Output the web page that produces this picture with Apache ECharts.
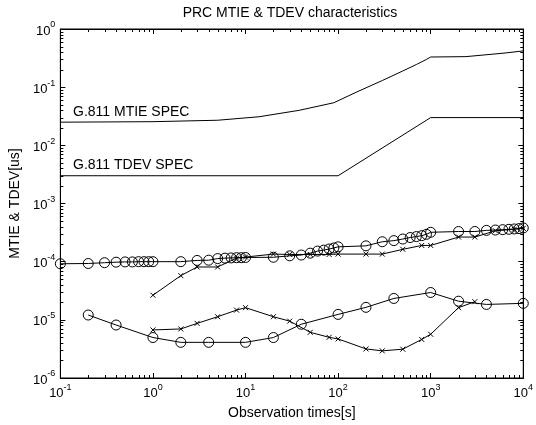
<!DOCTYPE html>
<html>
<head>
<meta charset="utf-8">
<title>PRC MTIE & TDEV characteristics</title>
<script src="https://cdn.jsdelivr.net/npm/echarts@6/dist/echarts.min.js"></script>
<style>
  html, body { margin: 0; padding: 0; background: #fff; }
  #chart { width: 536px; height: 425px; }
</style>
</head>
<body>
<div id="chart"></div>
<script>
// axis ranges / tick labels (decades)
var xDecades = [0.1, 1, 10, 100, 1000, 10000];
var yDecades = [1e-6, 1e-5, 1e-4, 1e-3, 1e-2, 1e-1, 1];

// G.811 MTIE spec
var mtieSpecX = [0.1, 1, 5, 14, 38, 90, 160, 300, 500, 700, 900, 1000, 2400, 6200, 10000];
var mtieSpecY = [0.025, 0.0255, 0.027, 0.031, 0.04, 0.054, 0.083, 0.13, 0.19, 0.245, 0.3, 0.33, 0.335, 0.385, 0.42];

// G.811 TDEV spec
var tdevSpecX = [0.1, 100, 1000, 10000];
var tdevSpecY = [0.003, 0.003, 0.03, 0.03];

// measured MTIE, circles
var mtieAX = [0.1, 0.2, 0.3, 0.4, 0.5, 0.6, 0.7, 0.8, 0.9, 1,
              2, 3, 4, 5, 6, 7, 8, 9, 10,
              20, 30, 40, 50, 60, 70, 80, 90, 100,
              200, 300, 400, 500, 600, 700, 800, 900, 1000,
              2000, 3000, 4000, 5000, 6000, 7000, 8000, 9000, 10000];
var mtieAY = [9.2e-5, 9.3e-5, 9.6e-5, 9.8e-5, 9.9e-5, 9.9e-5, 1.0e-4, 1.0e-4, 1.0e-4, 1.0e-4,
              1.0e-4, 1.05e-4, 1.06e-4, 1.13e-4, 1.15e-4, 1.16e-4, 1.17e-4, 1.17e-4, 1.18e-4,
              1.19e-4, 1.26e-4, 1.3e-4, 1.4e-4, 1.52e-4, 1.58e-4, 1.65e-4, 1.72e-4, 1.8e-4,
              1.87e-4, 2.2e-4, 2.3e-4, 2.45e-4, 2.6e-4, 2.7e-4, 2.8e-4, 2.95e-4, 3.2e-4,
              3.3e-4, 3.3e-4, 3.45e-4, 3.5e-4, 3.55e-4, 3.6e-4, 3.65e-4, 3.7e-4, 3.8e-4];

// measured MTIE, crosses
var mtieBX = [1, 2, 3, 5, 8, 10, 20, 30, 50, 80, 100, 200, 300, 500, 800, 1000, 2000, 3000, 5000, 8000, 10000];
var mtieBY = [2.65e-5, 5.75e-5, 8.1e-5, 8.1e-5, 1.15e-4, 1.2e-4, 1.35e-4, 1.33e-4, 1.33e-4, 1.33e-4, 1.35e-4,
              1.35e-4, 1.35e-4, 1.63e-4, 1.9e-4, 1.9e-4, 2.65e-4, 2.65e-4, 3.4e-4, 3.6e-4, 3.75e-4];

// measured TDEV, circles
var tdevAX = [0.2, 0.4, 1, 2, 4, 10, 20, 40, 100, 200, 400, 1000, 2000, 4000, 10000];
var tdevAY = [1.21e-5, 8.15e-6, 4.96e-6, 4.1e-6, 4.1e-6, 4.1e-6, 4.96e-6, 8.4e-6, 1.24e-5, 1.64e-5,
              2.33e-5, 2.95e-5, 2.09e-5, 1.84e-5, 1.92e-5];

// measured TDEV, crosses
var tdevBX = [1, 2, 3, 5, 8, 10, 20, 30, 50, 80, 100, 200, 300, 500, 800, 1000, 2000, 3000];
var tdevBY = [6.7e-6, 6.97e-6, 8.7e-6, 1.13e-5, 1.47e-5, 1.62e-5, 1.13e-5, 9.5e-6, 6.1e-6, 5.0e-6,
              4.7e-6, 3.16e-6, 2.93e-6, 3.13e-6, 4.6e-6, 5.65e-6, 1.62e-5, 2.05e-5];

var FONT = 'Liberation Sans';

// minor ticks 2..9 in each decade
var minorTicks = function(decades) {
    var out = [];
    for (var i = 0; i < decades.length - 1; i++) {
        for (var k = 2; k <= 9; k++) out.push(decades[i] * k);
    }
    return out;
};
var xMinor = minorTicks(xDecades);
var yMinor = minorTicks(yDecades);

var zip = function(xs, ys) {
    var d = [];
    for (var i = 0; i < xs.length; i++) d.push([xs[i], ys[i]]);
    return d;
};

var powLabel = function(v) {
    var e = Math.round(Math.log(v) / Math.LN10);
    return '{a|10}{b|' + e + '}';
};
var labelRich = {
    a: { fontSize: 13, fontFamily: FONT, color: '#000', verticalAlign: 'bottom' },
    b: { fontSize: 9, fontFamily: FONT, color: '#000', verticalAlign: 'bottom', padding: [0, 0, 8, 0] }
};

var lineSeries = function(name, data, symbol, size) {
    return {
        name: name,
        type: 'line',
        data: data,
        symbol: symbol,
        symbolSize: size,
        showSymbol: symbol !== 'none',
        silent: true,
        animation: false,
        lineStyle: { color: '#000', width: 1 },
        itemStyle: { color: 'rgba(0,0,0,0)', borderColor: '#000', borderWidth: 1 },
        emphasis: { disabled: true }
    };
};

var crisp = function(v) { return Math.round(v) + 0.5; };

var chart = echarts.init(document.getElementById('chart'));
var option = {
    backgroundColor: '#fff',
    animation: false,
    grid: { left: 57, right: 9, top: 29, bottom: 45, show: true, borderColor: '#000', borderWidth: 1 },
    xAxis: [{
        type: 'log', logBase: 10, min: 0.1, max: 10000, interval: 1,
        name: 'Observation times[s]', nameLocation: 'middle', nameGap: 28,
        nameTextStyle: { fontSize: 14, fontFamily: FONT, color: '#000' },
        axisLine: { show: true, lineStyle: { color: '#000', width: 1 } },
        axisTick: { show: true, inside: true, length: 5, lineStyle: { color: '#000' } },
        axisLabel: { formatter: powLabel, rich: labelRich, margin: 5 },
        splitLine: { show: false }
    }, {
        type: 'log', logBase: 10, min: 0.1, max: 10000, interval: 1, position: 'top',
        axisLine: { show: true, lineStyle: { color: '#000', width: 1 } },
        axisTick: { show: true, inside: true, length: 5, lineStyle: { color: '#000' } },
        axisLabel: { show: false },
        splitLine: { show: false }
    }],
    yAxis: [{
        type: 'log', logBase: 10, min: 1e-6, max: 1, interval: 1,
        name: 'MTIE & TDEV[us]', nameLocation: 'middle', nameGap: 36,
        nameTextStyle: { fontSize: 14, fontFamily: FONT, color: '#000' },
        axisLine: { show: true, lineStyle: { color: '#000', width: 1 } },
        axisTick: { show: true, inside: true, length: 5, lineStyle: { color: '#000' } },
        axisLabel: { formatter: powLabel, rich: labelRich, margin: 5 },
        splitLine: { show: false }
    }, {
        type: 'log', logBase: 10, min: 1e-6, max: 1, interval: 1, position: 'right',
        axisLine: { show: true, lineStyle: { color: '#000', width: 1 } },
        axisTick: { show: true, inside: true, length: 5, lineStyle: { color: '#000' } },
        axisLabel: { show: false },
        splitLine: { show: false }
    }],
    graphic: [
        { type: 'text', x: 290, y: 13, silent: true,
          style: { text: 'PRC MTIE & TDEV characteristics', textAlign: 'center', verticalAlign: 'middle',
                   fontSize: 14, fontFamily: FONT, fill: '#000' } },
        { type: 'text', x: 73, y: 112, silent: true,
          style: { text: 'G.811 MTIE SPEC', verticalAlign: 'middle', fontSize: 14, fontFamily: FONT, fill: '#000' } },
        { type: 'text', x: 73, y: 165, silent: true,
          style: { text: 'G.811 TDEV SPEC', verticalAlign: 'middle', fontSize: 14, fontFamily: FONT, fill: '#000' } }
    ],
    series: [
        lineSeries('G.811 MTIE SPEC', zip(mtieSpecX, mtieSpecY), 'none', 0),
        lineSeries('G.811 TDEV SPEC', zip(tdevSpecX, tdevSpecY), 'none', 0),
        lineSeries('MTIE o', zip(mtieAX, mtieAY), 'circle', 10),
        lineSeries('MTIE x', zip(mtieBX, mtieBY), 'path://M0,0L10,10M10,0L0,10', 5),
        lineSeries('TDEV o', zip(tdevAX, tdevAY), 'circle', 10),
        lineSeries('TDEV x', zip(tdevBX, tdevBY), 'path://M0,0L10,10M10,0L0,10', 5),
        {
            type: 'custom', silent: true, clip: false, xAxisIndex: 0, yAxisIndex: 0,
            data: xMinor.map(function(v) { return [v, 1]; }),
            renderItem: function(params, api) {
                var v = api.value(0);
                var b = api.coord([v, 1e-6]);
                var t = api.coord([v, 1]);
                var x = crisp(b[0]);
                var st = { stroke: '#000', lineWidth: 1 };
                return { type: 'group', children: [
                    { type: 'line', shape: { x1: x, y1: b[1], x2: x, y2: b[1] - 3 }, style: st },
                    { type: 'line', shape: { x1: x, y1: t[1], x2: x, y2: t[1] + 3 }, style: st }
                ] };
            }
        },
        {
            type: 'custom', silent: true, clip: false, xAxisIndex: 0, yAxisIndex: 0,
            data: yMinor.map(function(v) { return [1, v]; }),
            renderItem: function(params, api) {
                var v = api.value(1);
                var l = api.coord([0.1, v]);
                var r = api.coord([10000, v]);
                var y = crisp(l[1]);
                var st = { stroke: '#000', lineWidth: 1 };
                return { type: 'group', children: [
                    { type: 'line', shape: { x1: l[0], y1: y, x2: l[0] + 3, y2: y }, style: st },
                    { type: 'line', shape: { x1: r[0], y1: y, x2: r[0] - 3, y2: y }, style: st }
                ] };
            }
        }
    ]
};
chart.setOption(option);
window.addEventListener('resize', function() {
    chart.resize();
});
</script>
</body>
</html>
